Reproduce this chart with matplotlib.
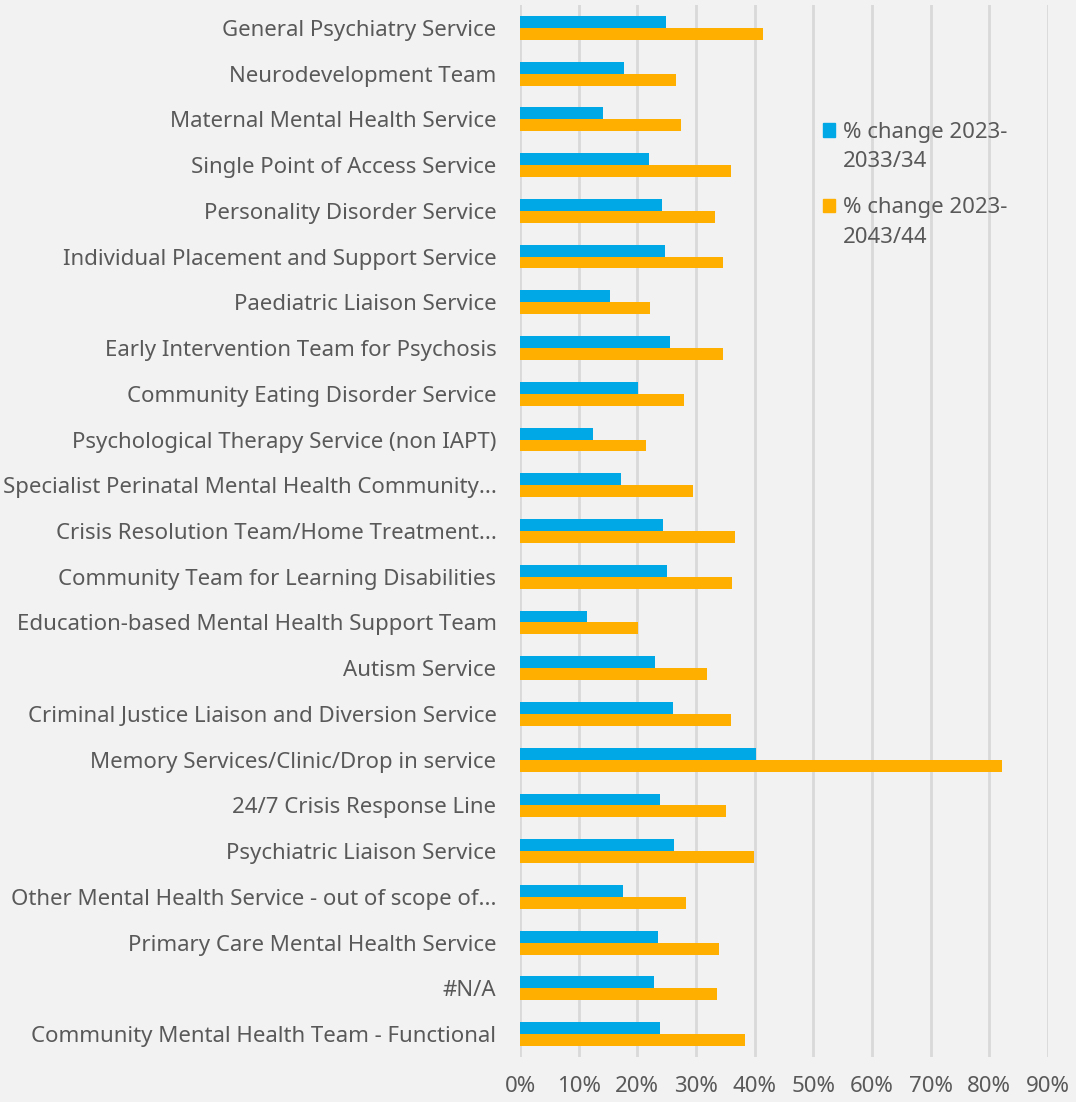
import matplotlib.pyplot as plt
import numpy as np
from matplotlib.ticker import PercentFormatter
from matplotlib.patches import Patch

services = [
    "General Psychiatry Service",
    "Neurodevelopment Team",
    "Maternal Mental Health Service",
    "Single Point of Access Service",
    "Personality Disorder Service",
    "Individual Placement and Support Service",
    "Paediatric Liaison Service",
    "Early Intervention Team for Psychosis",
    "Community Eating Disorder Service",
    "Psychological Therapy Service (non IAPT)",
    "Specialist Perinatal Mental Health Community...",
    "Crisis Resolution Team/Home Treatment...",
    "Community Team for Learning Disabilities",
    "Education-based Mental Health Support Team",
    "Autism Service",
    "Criminal Justice Liaison and Diversion Service",
    "Memory Services/Clinic/Drop in service",
    "24/7 Crisis Response Line",
    "Psychiatric Liaison Service",
    "Other Mental Health Service - out of scope of...",
    "Primary Care Mental Health Service",
    "#N/A",
    "Community Mental Health Team - Functional",
]

change_2033 = [24.9, 17.7, 14.1, 22.0, 24.2, 24.7, 15.3, 25.6, 20.1, 12.4, 17.2, 24.4,
               25.0, 11.4, 23.0, 26.1, 40.2, 23.9, 26.2, 17.5, 23.5, 22.8, 23.9]
change_2043 = [41.4, 26.6, 27.4, 35.9, 33.2, 34.6, 22.1, 34.6, 27.9, 21.5, 29.5, 36.6,
               36.1, 20.1, 31.9, 35.9, 82.1, 35.1, 39.9, 28.3, 33.9, 33.6, 38.3]

# legend labels are wrapped in two lines in the original
legend_line1 = ["% change 2023-", "% change 2023-"]
legend_line2 = ["2033/34", "2043/44"]

bg = "#F2F2F2"
txt = "#595959"
blue = "#00A9E6"
orange = "#FFAF00"
fs = 16

plt.rcParams['font.family'] = ['Noto Sans', 'DejaVu Sans']

fig = plt.figure(figsize=(10.76, 11.02), dpi=100, facecolor=bg)
ax = fig.add_axes([520 / 1076, 1 - 1057 / 1102, (1048 - 520) / 1076, 1052 / 1102])
ax.set_facecolor(bg)

y = np.arange(len(services))
h = 0.26
ax.barh(y - h / 2, change_2033, height=h, color=blue)
ax.barh(y + h / 2, change_2043, height=h, color=orange)

ax.set_xlim(0, 90)
ax.set_ylim(len(services) - 0.5, -0.5)
ax.set_xticks(np.arange(0, 91, 10))
ax.xaxis.set_major_formatter(PercentFormatter(decimals=0))
ax.set_yticks(y)
ax.set_yticklabels(services, va='center_baseline')
ax.grid(axis='x', color="#D9D9D9", linewidth=2)
ax.set_axisbelow(True)
for s in ax.spines.values():
    s.set_visible(False)
ax.tick_params(axis='both', length=0, colors=txt, labelsize=fs)
ax.tick_params(axis='y', pad=17)
ax.tick_params(axis='x', pad=14)

handles = [Patch(color=blue), Patch(color=orange)]
leg = ax.legend(handles, legend_line1, loc='upper left', bbox_to_anchor=(0.574, 0.889),
                frameon=False, fontsize=fs, labelcolor=txt, handlelength=0.55,
                handleheight=0.55, handletextpad=0.35, labelspacing=2.45,
                borderpad=0, borderaxespad=0)
for t, second in zip(leg.get_texts(), legend_line2):
    ax.annotate(second, xy=(0, 0), xycoords=t, xytext=(0, -6), textcoords='offset points',
                ha='left', va='top', fontsize=fs, color=txt, zorder=10)

fig.savefig("out.png", dpi=100, facecolor=bg)
